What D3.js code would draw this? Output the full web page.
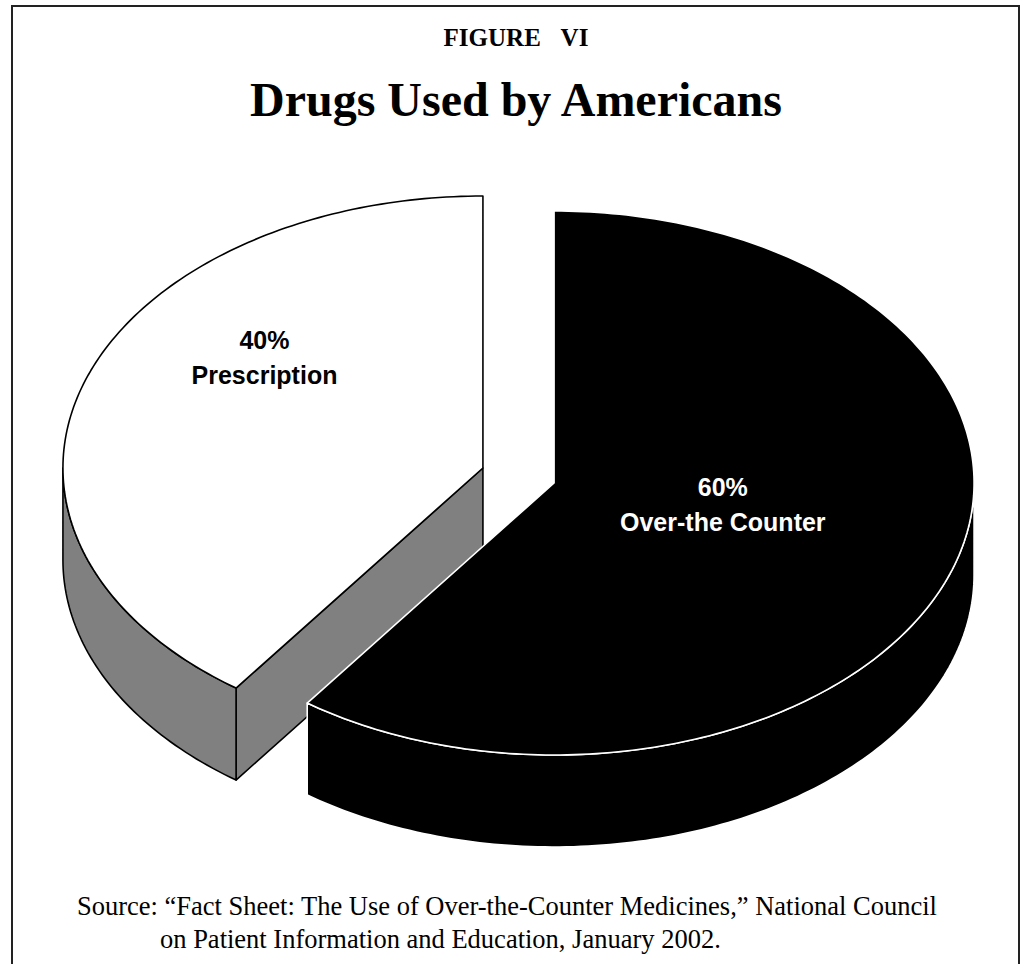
<!DOCTYPE html>
<html>
<head>
<meta charset="utf-8">
<script src="https://cdn.jsdelivr.net/npm/d3@7/dist/d3.min.js"></script>
<style>
  html, body { margin: 0; padding: 0; background: #ffffff; }
  svg { display: block; }
</style>
</head>
<body>
<svg id="chart" width="1021" height="964"></svg>
<script>
// ---- data ----
const categories = ["Over-the Counter", "Prescription"];
const values = [60, 40];
const figureLabel = "FIGURE VI";
const title = "Drugs Used by Americans";
const sourceLines = [
  "Source: \u201CFact Sheet: The Use of Over-the-Counter Medicines,\u201D National Council",
  "on Patient Information and Education, January 2002."
];

// ---- styles ----
const topColors = ["#000000", "#ffffff"];
const sideColors = ["#000000", "#808080"];
const edgeColors = ["#ffffff", "#000000"];
const labelColors = ["#ffffff", "#000000"];
const labelAngleShift = [-6.5, 20];   // degrees, label placement tweak
const labelRadius = [0.41, 0.66];

// ---- layout ----
const W = 1021, H = 964;
const cx = 518.5, cy = 475.5;
const rx = 420, ry = 272, depth = 92, explode = 37.4;

const svg = d3.select("#chart");

// frame
svg.append("rect")
  .attr("x", 12).attr("y", 6)
  .attr("width", 1007).attr("height", 990)
  .attr("fill", "none").attr("stroke", "#222").attr("stroke-width", 2);

// titles
svg.append("text")
  .attr("x", 516).attr("y", 46)
  .attr("text-anchor", "middle")
  .attr("font-family", "'Liberation Serif', 'Times New Roman', serif")
  .attr("font-weight", "bold").attr("font-size", 25)
  .attr("word-spacing", 14)
  .text(figureLabel);

svg.append("text")
  .attr("x", 516).attr("y", 116)
  .attr("text-anchor", "middle")
  .attr("font-family", "'Liberation Serif', 'Times New Roman', serif")
  .attr("font-weight", "bold").attr("font-size", 48)
  .text(title);

// source
svg.append("text")
  .attr("x", 77).attr("y", 915)
  .attr("font-family", "'Liberation Serif', 'Times New Roman', serif")
  .attr("font-size", 26.5)
  .text(sourceLines[0]);
svg.append("text")
  .attr("x", 160).attr("y", 948)
  .attr("font-family", "'Liberation Serif', 'Times New Roman', serif")
  .attr("font-size", 26.5)
  .text(sourceLines[1]);

// ---- 3D pie ----
const pie = d3.pie().sort(null).value(d => d.value).startAngle(0).endAngle(2 * Math.PI);
const arcs = pie(categories.map((c, i) => ({ name: c, value: values[i], i })));

function proj(c, a, r, dz) {
  return [c[0] + rx * r * Math.sin(a), c[1] - ry * r * Math.cos(a) + (dz || 0)];
}
function arcPts(c, a0, a1, dz) {
  const n = Math.max(2, Math.ceil(Math.abs(a1 - a0) / (Math.PI / 180)));
  return d3.range(n + 1).map(k => proj(c, a0 + (a1 - a0) * k / n, 1, dz));
}
const line = d3.line();

arcs.forEach(d => {
  d.mid = (d.startAngle + d.endAngle) / 2;
  d.center = [cx + explode * Math.sin(d.mid), cy - explode * (ry / rx) * Math.cos(d.mid)];
});

// draw back to front
const order = arcs.slice().sort((a, b) => Math.cos(b.mid) - Math.cos(a.mid));
const g = svg.append("g").attr("stroke-linejoin", "round");

order.forEach(d => {
  const i = d.data.i;
  const c = d.center;
  const sg = g.append("g");
  const strokeW = 1.6;

  // cut faces
  [[d.startAngle, d.startAngle - Math.PI / 2], [d.endAngle, d.endAngle + Math.PI / 2]].forEach(([a, n]) => {
    if (Math.cos(n) < -1e-6) {
      const p1 = proj(c, a, 1, 0), p2 = proj(c, a, 1, depth);
      const c2 = [c[0], c[1] + depth];
      sg.append("path")
        .attr("d", line([c, p1, p2, c2]) + "Z")
        .attr("fill", sideColors[i])
        .attr("stroke", edgeColors[i]).attr("stroke-width", strokeW);
    }
  });

  // outer wall (visible between 90° and 270°)
  const s0 = Math.max(d.startAngle, Math.PI / 2);
  const s1 = Math.min(d.endAngle, 3 * Math.PI / 2);
  if (s1 > s0) {
    const top = arcPts(c, s0, s1, 0);
    const bot = arcPts(c, s1, s0, depth);
    sg.append("path")
      .attr("d", line(top.concat(bot)) + "Z")
      .attr("fill", sideColors[i])
      .attr("stroke", edgeColors[i]).attr("stroke-width", strokeW);
  }

  // top face
  const topPts = [c].concat(arcPts(c, d.startAngle, d.endAngle, 0));
  sg.append("path")
    .attr("d", line(topPts) + "Z")
    .attr("fill", topColors[i])
    .attr("stroke", edgeColors[i]).attr("stroke-width", strokeW);
});

// labels
arcs.forEach(d => {
  const i = d.data.i;
  const a = d.mid + labelAngleShift[i] * Math.PI / 180;
  const p = proj(d.center, a, labelRadius[i], 0);
  const t = svg.append("text")
    .attr("text-anchor", "middle")
    .attr("font-family", "'Liberation Sans', Arial, sans-serif")
    .attr("font-weight", "bold").attr("font-size", 25)
    .attr("fill", labelColors[i]);
  t.append("tspan").attr("x", p[0]).attr("y", p[1] - 17.5).attr("dy", "0.35em")
    .text(d3.format(".0f")(d.data.value) + "%");
  t.append("tspan").attr("x", p[0]).attr("y", p[1] + 17.5).attr("dy", "0.35em")
    .text(d.data.name);
});
</script>
</body>
</html>
